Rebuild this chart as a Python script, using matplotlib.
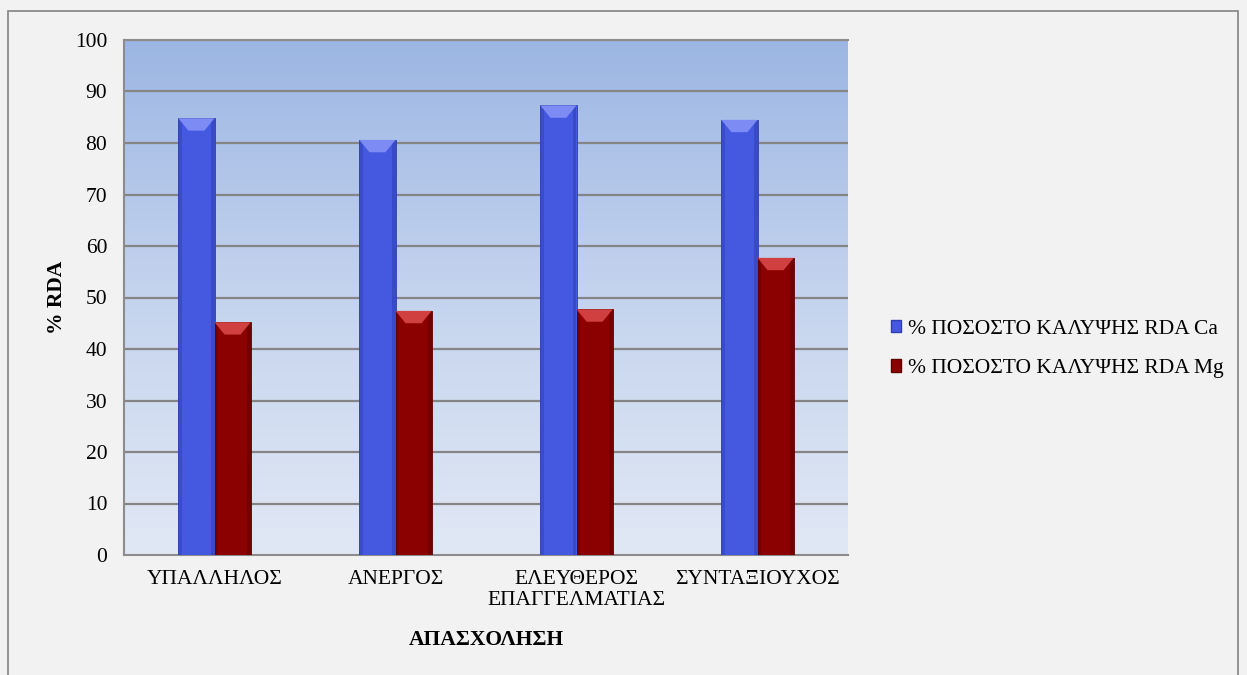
import numpy as np
import matplotlib
matplotlib.use("Agg")
import matplotlib.pyplot as plt
from matplotlib.patches import Patch, Polygon, Rectangle
from matplotlib.colors import LinearSegmentedColormap

categories = ["ΥΠΑΛΛΗΛΟΣ", "ΑΝΕΡΓΟΣ", "ΕΛΕΥΘΕΡΟΣ\nΕΠΑΓΓΕΛΜΑΤΙΑΣ", "ΣΥΝΤΑΞΙΟΥΧΟΣ"]
ca_values = [84.8, 80.6, 87.3, 84.5]
mg_values = [45.2, 47.4, 47.7, 57.7]
series_labels = ["% ΠΟΣΟΣΤΟ ΚΑΛΥΨΗΣ RDA Ca", "% ΠΟΣΟΣΤΟ ΚΑΛΥΨΗΣ RDA Mg"]
y_ticks = list(range(0, 101, 10))

plt.rcParams["font.family"] = ["Liberation Serif", "DejaVu Serif"]

W, H = 1247, 675
fig = plt.figure(figsize=(W / 100, H / 100), dpi=100)
fig.patch.set_facecolor("#f2f2f2")

# outer chart border
fig.add_artist(Rectangle((8 / W, -0.01), (1238 - 8) / W, 1.01 - 11 / H,
                         transform=fig.transFigure, fill=False,
                         edgecolor="#8c8c8c", linewidth=1.3))

ax = fig.add_axes([124 / W, 1 - 555 / H, (848 - 124) / W, (555 - 40) / H])
ax.set_xlim(-0.5, len(categories) - 0.5)
ax.set_ylim(0, 100)

# vertical gradient background of the plot area
grad = np.linspace(0, 1, 256).reshape(-1, 1)
cmap = LinearSegmentedColormap.from_list("bg", ["#e1e8f5", "#c5d4ee", "#9cb6e3"])
ax.imshow(grad, cmap=cmap, origin="lower", aspect="auto",
          extent=[0, 1, 0, 1], transform=ax.transAxes, zorder=0)

# horizontal gridlines
for t in y_ticks[1:]:
    ax.axhline(t, color="#858585", linewidth=1.6, zorder=1)

x = np.arange(len(categories))
bw = 0.2
colors = [("#4558e0", "#7d8cf5", "#2f3fb0"), ("#8b0000", "#d04040", "#5e0000")]

def bevel_bars(xs, vals, base, light, dark):
    bars = ax.bar(xs, vals, width=bw, color=base, edgecolor=dark,
                  linewidth=0.6, zorder=3)
    for b in bars:
        x0, w, h = b.get_x(), b.get_width(), b.get_height()
        # shaded side strips
        ax.add_patch(Rectangle((x0, 0), w * 0.1, h, color=dark, alpha=0.45,
                               linewidth=0, zorder=4))
        ax.add_patch(Rectangle((x0 + w * 0.9, 0), w * 0.1, h, color=dark,
                               alpha=0.55, linewidth=0, zorder=4))
        # bevelled top cap
        cap = 2.4
        ax.add_patch(Polygon([(x0, h), (x0 + w, h), (x0 + w * 0.72, h - cap),
                              (x0 + w * 0.28, h - cap)], closed=True,
                             color=light, linewidth=0, zorder=5))
    return bars

bevel_bars(x - bw / 2, ca_values, *colors[0])
bevel_bars(x + bw / 2, mg_values, *colors[1])

fs = 15.5
ax.set_yticks(y_ticks)
ax.set_xticks(x)
ax.set_xticklabels(categories, fontsize=fs, linespacing=1.1)
ax.tick_params(axis="y", length=0, pad=12, labelsize=fs)
ax.tick_params(axis="x", length=0, pad=11)

for side in ["left", "bottom", "top"]:
    ax.spines[side].set_color("#8c8c8c")
    ax.spines[side].set_linewidth(1.5)
ax.spines["right"].set_visible(False)

ax.set_ylabel("% RDA", fontsize=15.5, fontweight="bold")
ax.yaxis.set_label_coords((57 - 124) / 724, 0.5)
ax.set_xlabel("ΑΠΑΣΧΟΛΗΣΗ", fontsize=15.5, fontweight="bold")
ax.xaxis.set_label_coords(0.5, (555 - 640) / 515)
ax.xaxis.label.set_verticalalignment("center")
ax.yaxis.label.set_verticalalignment("center")

handles = [Patch(facecolor=colors[0][0], edgecolor=colors[0][2]),
           Patch(facecolor=colors[1][0], edgecolor=colors[1][2])]
fig.legend(handles, series_labels, loc="center left",
           bbox_to_anchor=(882 / W, 1 - 349 / H), frameon=False,
           fontsize=15.5, handlelength=0.5, handleheight=0.5,
           handletextpad=0.3, labelspacing=0.95, borderaxespad=0)

fig.savefig("out.png", dpi=100, facecolor=fig.get_facecolor())
